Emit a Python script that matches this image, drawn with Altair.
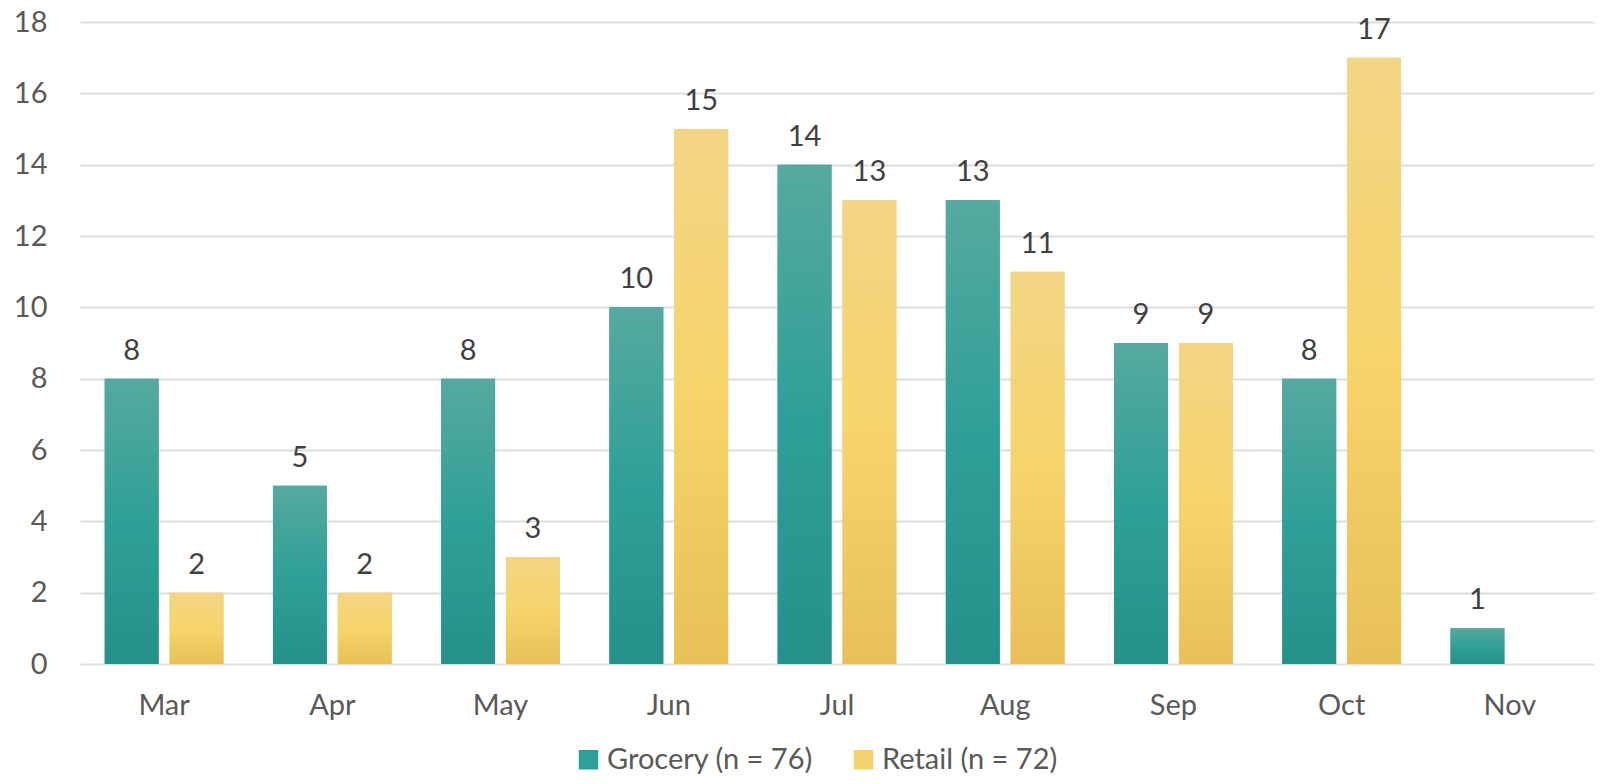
import altair as alt
import pandas as pd

months = ["Mar", "Apr", "May", "Jun", "Jul", "Aug", "Sep", "Oct", "Nov"]
grocery = [8, 5, 8, 10, 14, 13, 9, 8, 1]
retail = [2, 2, 3, 15, 13, 11, 9, 17, None]
series_names = ["Grocery (n = 76)", "Retail (n = 72)"]
y_ticks = [0, 2, 4, 6, 8, 10, 12, 14, 16, 18]

rows = []
for m, g, r in zip(months, grocery, retail):
    rows.append({"month": m, "series": series_names[0], "value": g})
    if r is not None:
        rows.append({"month": m, "series": series_names[1], "value": r})
df = pd.DataFrame(rows)

FONT = "Lato"
FS = 29
teal_grad = {"gradient": "linear", "x1": 0, "y1": 0, "x2": 0, "y2": 1,
             "stops": [{"offset": 0, "color": "#56A9A0"},
                       {"offset": 0.5, "color": "#2FA097"},
                       {"offset": 1, "color": "#259189"}]}
gold_grad = {"gradient": "linear", "x1": 0, "y1": 0, "x2": 0, "y2": 1,
             "stops": [{"offset": 0, "color": "#F3D585"},
                       {"offset": 0.5, "color": "#F7D46B"},
                       {"offset": 1, "color": "#E8C057"}]}

x_enc = alt.X("month:N", sort=months, title=None,
              scale=alt.Scale(paddingInner=0.294, paddingOuter=0.147),
              axis=alt.Axis(labelAngle=0, labelFontSize=FS, labelFont=FONT,
                            labelColor="#595959", labelPadding=27,
                            domain=False, ticks=False, grid=False))
y_enc = alt.Y("value:Q", title=None,
              scale=alt.Scale(domain=[0, 18], nice=False),
              axis=alt.Axis(values=y_ticks, labelFontSize=FS, labelFont=FONT,
                            labelColor="#595959", labelPadding=33,
                            domain=False, ticks=False, grid=True,
                            gridColor="#DEDEDE", gridWidth=2))
xo = alt.XOffset("series:N", sort=series_names,
                 scale=alt.Scale(paddingInner=0.169, paddingOuter=0))

base = alt.Chart(df)

legend_bars = base.mark_bar().encode(
    x=x_enc, y=y_enc, xOffset=xo,
    color=alt.Color("series:N", sort=series_names,
                    scale=alt.Scale(domain=series_names, range=["#2FA097", "#F5D16E"]),
                    legend=alt.Legend(title=None, orient="none", direction="horizontal",
                                      legendX=494, legendY=723,
                                      symbolType="square", symbolSize=380,
                                      symbolStrokeWidth=0, labelLimit=0,
                                      labelFontSize=FS, labelFont=FONT,
                                      labelColor="#595959", columnPadding=36,
                                      labelOffset=4)))

grad_bars = base.mark_bar().encode(
    x=x_enc, y=y_enc, xOffset=xo,
    fill=alt.condition(alt.datum.series == series_names[0],
                       alt.value(teal_grad), alt.value(gold_grad)))

labels = base.mark_text(fontSize=FS, font=FONT, color="#404040",
                        baseline="middle", dy=-28).encode(
    x=x_enc, y=y_enc, xOffset=xo, text="value:Q")

chart = alt.layer(legend_bars, grad_bars, labels).properties(
    width=1514, height=642,
    autosize=alt.AutoSizeParams(type="none"),
    padding={"left": 72, "top": 14, "right": 0, "bottom": 112},
).configure_view(stroke=None)

chart.save("out.html", embed_options={"renderer": "svg", "actions": False})
